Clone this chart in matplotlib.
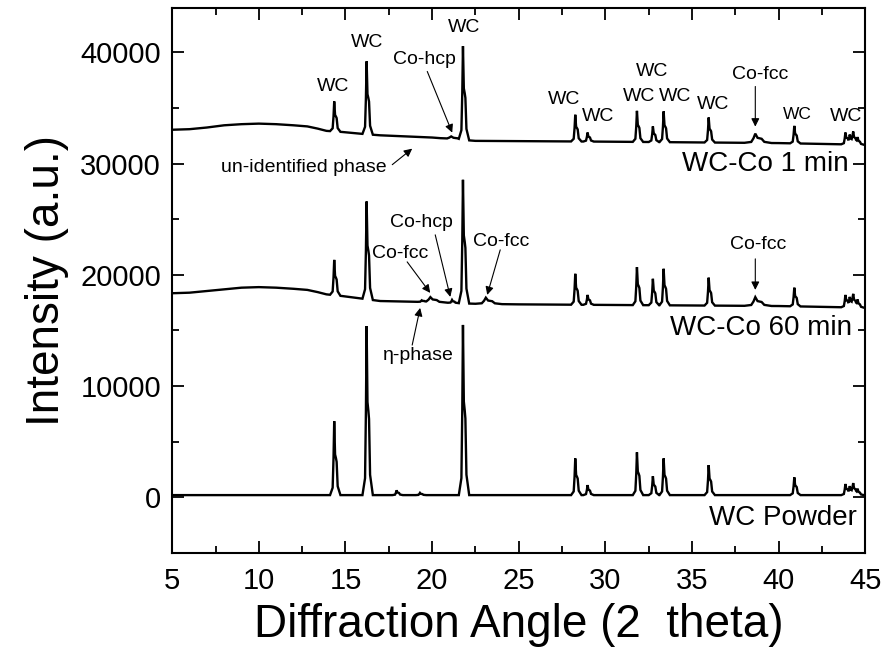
import numpy as np
import matplotlib
matplotlib.use("Agg")
import matplotlib.pyplot as plt
from matplotlib.ticker import MultipleLocator

plt.rcParams['font.family'] = ['Liberation Sans', 'DejaVu Sans']

# baseline points (2theta, intensity)
powder_base_x = [5, 45]
powder_base_y = [200, 200]
min60_base_x = [5, 6, 7, 8, 9, 10, 11, 12, 12.8, 13.4, 13.9, 14.8, 15.8, 17, 18.5, 20, 22.5, 25, 30, 40, 45]
min60_base_y = [18350, 18400, 18550, 18700, 18850, 18900, 18850, 18750, 18650, 18450, 18250, 18100, 17900, 17650, 17600, 17550, 17400, 17350, 17300, 17200, 17050]
min1_base_x = [5, 6, 7, 8, 9, 10, 11, 12, 12.8, 13.4, 13.9, 14.8, 15.8, 17, 18.5, 20, 22.5, 30, 40, 45]
min1_base_y = [33050, 33100, 33250, 33450, 33550, 33600, 33550, 33450, 33350, 33150, 32950, 32850, 32700, 32550, 32450, 32350, 32050, 31980, 31850, 31700]

# peak positions and peak-top intensities
powder_pk_x = [14.35, 16.22, 17.95, 19.3, 21.78, 28.26, 28.97, 31.82, 32.74, 33.36, 35.96, 40.9, 43.85, 44.1, 44.3, 44.55]
powder_pk_y = [6850, 15400, 630, 400, 15500, 3500, 1100, 4050, 1900, 3500, 2900, 1800, 1200, 900, 1200, 700]
min60_pk_x = [14.35, 16.22, 19.4, 19.9, 21.15, 21.78, 23.1, 28.26, 28.97, 31.82, 32.74, 33.36, 35.96, 38.65, 40.9, 43.85, 44.1, 44.3, 44.55]
min60_pk_y = [21350, 26600, 17700, 18000, 17750, 28550, 17950, 20100, 18200, 20700, 19650, 20550, 19750, 18000, 18850, 18200, 17900, 18200, 17700]
min60_broad = [38.65, 19.9, 23.1]
min1_pk_x = [14.35, 16.22, 21.1, 21.78, 28.26, 28.97, 31.82, 32.74, 33.36, 35.96, 38.65, 40.9, 43.85, 44.1, 44.3, 44.55]
min1_pk_y = [35600, 39200, 32450, 40550, 34400, 32800, 34750, 33350, 34700, 34150, 32700, 33400, 32800, 32500, 32800, 32300]
min1_broad = [38.65, 21.1]

# K-alpha doublet outline used for every peak
SHAPE_DX = np.array([-0.24, -0.09, -0.04, 0.0, 0.05, 0.1, 0.14, 0.2, 0.36])
SHAPE_FR = np.array([0.0, 0.1, 0.5, 1.0, 0.55, 0.5, 0.45, 0.12, 0.0])


def build_trace(bx, by, px, py, broad=()):
    xs = list(bx)
    shapes = []
    for p, top in zip(px, py):
        w = 2.6 if p in broad else 1.0
        vx = p + SHAPE_DX * w
        h = top - np.interp(p, bx, by)
        shapes.append((vx, SHAPE_FR * h))
        xs.extend(vx)
    xs = np.unique(np.clip(xs, 5, 45))
    ys = np.interp(xs, bx, by)
    for vx, vy in shapes:
        ys = ys + np.interp(xs, vx, vy, left=0, right=0)
    return xs, ys


fig = plt.figure(figsize=(8.83, 6.63), dpi=100)
ax = fig.add_axes([0.195, 0.166, 0.785, 0.822])

for bx, by, px, py, br in [
    (powder_base_x, powder_base_y, powder_pk_x, powder_pk_y, ()),
    (min60_base_x, min60_base_y, min60_pk_x, min60_pk_y, min60_broad),
    (min1_base_x, min1_base_y, min1_pk_x, min1_pk_y, min1_broad),
]:
    x, y = build_trace(bx, by, px, py, br)
    ax.plot(x, y, color='black', lw=1.7, solid_joinstyle='miter')

ax.set_xlim(5, 45)
ax.set_ylim(-5000, 44000)
ax.xaxis.set_major_locator(MultipleLocator(5))
ax.xaxis.set_minor_locator(MultipleLocator(2.5))
ax.yaxis.set_major_locator(MultipleLocator(10000))
ax.yaxis.set_minor_locator(MultipleLocator(5000))
ax.tick_params(which='both', direction='in', top=True, right=True, width=1.3)
ax.tick_params(which='major', length=8.5, labelsize=21)
ax.tick_params(which='minor', length=5)
ax.tick_params(axis='y', which='major', pad=8)
ax.tick_params(axis='x', which='major', pad=10)
for s in ax.spines.values():
    s.set_linewidth(1.5)

ax.set_xlabel('Diffraction Angle (2  theta)', fontsize=33, labelpad=6)
ax.set_ylabel('Intensity (a.u.)', fontsize=33, labelpad=8)

# trace names
ax.text(44.02, 30000, 'WC-Co 1 min', fontsize=20, ha='right', va='center')
ax.text(44.25, 15200, 'WC-Co 60 min', fontsize=20, ha='right', va='center')
ax.text(44.54, -1900, 'WC Powder', fontsize=20, ha='right', va='center')

# WC labels on the 1 min pattern
wc_x = [14.3, 16.26, 21.85, 27.6, 29.6, 32.7, 31.95, 34.0, 36.2, 43.9]
wc_y = [36940, 40900, 42250, 35770, 34230, 38290, 36040, 36040, 35320, 34230]
for tx, ty in zip(wc_x, wc_y):
    ax.text(tx, ty, 'WC', fontsize=14, ha='center', va='center')
ax.text(41.1, 34410, 'WC', fontsize=12.5, ha='center', va='center')

arrow = dict(arrowstyle='-|>', color='black', lw=0.8, mutation_scale=12, shrinkA=0, shrinkB=0)
# (text, text x, text y, arrow start x, start y, arrow tip x, tip y)
notes = [
    ('Co-hcp', 19.57, 39370, 19.72, 38290, 21.16, 32790),
    ('Co-fcc', 38.9, 38020, 38.65, 36940, 38.65, 33330),
    ('un-identified phase', 12.62, 29640, 17.7, 29910, 18.85, 31350),
    ('Co-hcp', 19.4, 24680, 20.18, 23600, 21.05, 18020),
    ('Co-fcc', 18.16, 21890, 18.56, 21170, 19.89, 18380),
    ('Co-fcc', 24.0, 22970, 23.93, 22250, 23.18, 18200),
    ('\u03b7-phase', 19.2, 12790, 18.85, 13690, 19.31, 17030),
    ('Co-fcc', 38.8, 22700, 38.65, 21440, 38.65, 18650),
]
for label, tx, ty, sx, sy, hx, hy in notes:
    ax.text(tx, ty, label, fontsize=14, ha='center', va='center')
    ax.annotate('', xy=(hx, hy), xytext=(sx, sy), arrowprops=arrow)

fig.savefig('out.png', dpi=100)
